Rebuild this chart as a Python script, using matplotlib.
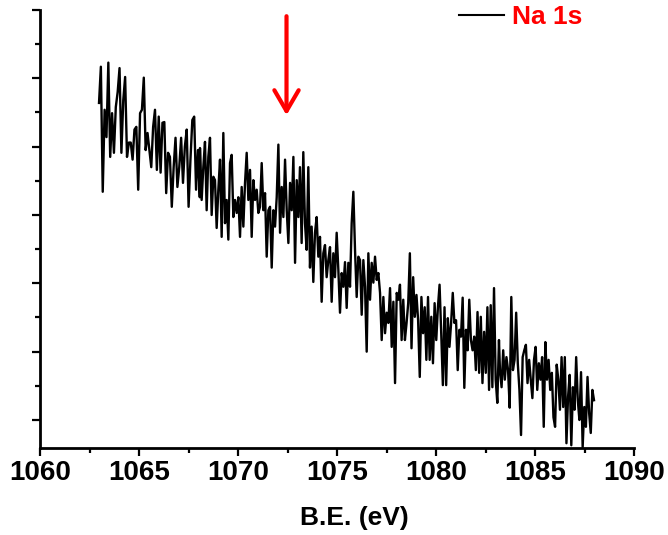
import numpy as np
import matplotlib.pyplot as plt
from matplotlib.ticker import MultipleLocator

plt.rcParams['font.family'] = ['Liberation Sans', 'DejaVu Sans']
plt.rcParams['font.weight'] = 'bold'

# Na 1s spectrum, intensity in arbitrary units in 5 pieces
seg_a = [464, 517, 334, 454, 414, 523, 385, 449, 391, 458, 480, 515, 391, 468, 502,
         385, 406, 406, 381, 425, 429, 337, 449, 454, 501, 395, 420, 395, 370, 429,
         454, 366, 444, 362, 435, 436, 332, 391, 385, 312, 370, 413, 341, 370, 413,
         347, 400, 425, 312, 381, 439, 444, 337, 395, 326]
seg_b = [398, 322, 370, 407, 307, 385, 413, 300, 356, 351, 281, 337, 381, 268, 420,
         288, 322, 264, 376, 388, 297, 322, 303, 326, 268, 341, 283, 347, 391, 322,
         366, 268, 351, 322, 337, 303, 312, 376, 307, 332, 239, 307, 312, 223, 307,
         283, 326, 403, 274, 341, 297, 381, 307, 259, 347, 307, 385, 230, 351, 297]
seg_c = [370, 259, 392, 288, 249, 370, 223, 283, 202, 274, 297, 239, 268, 173, 244,
         256, 209, 234, 253, 173, 244, 209, 274, 220, 157, 215, 195, 231, 164, 230,
         195, 288, 334, 249, 180, 239, 234, 154, 234, 195, 100, 244, 176, 230, 201,
         239, 205, 215, 186, 117, 180, 127, 157, 142, 193, 107, 173, 54, 186, 176]
seg_d = [198, 117, 176, 117, 142, 171, 244, 105, 209, 151, 183, 146, 63, 180, 127,
         165, 88, 180, 88, 151, 83, 171, 117, 165, 198, 127, 51, 165, 51, 149,
         107, 142, 186, 142, 146, 73, 132, 122, 179, 47, 132, 102, 176, 117, 102,
         122, 73, 158, 69, 151, 54, 129, 69, 165, 44, 168, 48, 193, 59, 25, 117]
seg_e = [73, 48, 102, 59, 92, 73, 18, 180, 73, 88, 157, 83, 44, -22, 92,
         102, 110, 54, 88, 59, 32, 88, 107, 44, 83, 59, 92, -10, 114, 59,
         88, 44, 69, 4, -10, 81, 59, 15, 92, 19, 92, -34, 34, 66, -37,
         48, 15, 92, 29, 0, 70, -40, 19, -10, 63, 10, -19, 44, 29]

# binding energy range (eV) covered by each piece
seg_ranges = [(1062.98, 1068.07), (1068.08, 1073.05), (1073.13, 1078.10),
              (1078.18, 1083.18), (1083.23, 1087.98)]
segments = [seg_a, seg_b, seg_c, seg_d, seg_e]

be = np.concatenate([np.linspace(lo, hi, len(s)) for (lo, hi), s in zip(seg_ranges, segments)])
counts = np.concatenate([np.array(s, dtype=float) for s in segments])

arrow_be = 1072.45

fig = plt.figure(figsize=(6.68, 5.35), dpi=100)
ax = fig.add_axes([40 / 668, 87 / 535, 594 / 668, 438 / 535])

ax.plot(be, counts, color='black', lw=1.7, label='Na 1s')

ax.set_xlim(1060, 1090)
ax.set_ylim(-41, 600)
ax.xaxis.set_major_locator(MultipleLocator(5))
ax.xaxis.set_minor_locator(MultipleLocator(2.5))
ax.yaxis.set_major_locator(MultipleLocator(100))
ax.yaxis.set_minor_locator(MultipleLocator(50))

for s in ['top', 'right']:
    ax.spines[s].set_visible(False)
for s in ['left', 'bottom']:
    ax.spines[s].set_linewidth(2)

ax.tick_params(which='major', direction='out', length=6, width=1.6, labelsize=20, pad=3)
ax.tick_params(which='minor', direction='out', length=3.5, width=1.6)
ax.tick_params(axis='y', labelleft=False)

ax.set_xlabel('B.E. (eV)', fontsize=19, fontweight='bold')
ax.xaxis.set_label_coords(0.53, -0.133)

ax.annotate('', xy=(arrow_be, 442), xytext=(arrow_be, 595),
            arrowprops=dict(arrowstyle='->,head_length=0.6,head_width=0.35',
                            color='red', lw=3, mutation_scale=25))

leg = ax.legend(loc='center right', bbox_to_anchor=(582 / 668, 1 - 17 / 535),
                bbox_transform=fig.transFigure, frameon=False, fontsize=19,
                handlelength=1.7, handletextpad=0.3, borderpad=0, borderaxespad=0)
for t in leg.get_texts():
    t.set_color('red')
leg.get_lines()[0].set_linewidth(1.5)

fig.savefig('out.png', dpi=100)
